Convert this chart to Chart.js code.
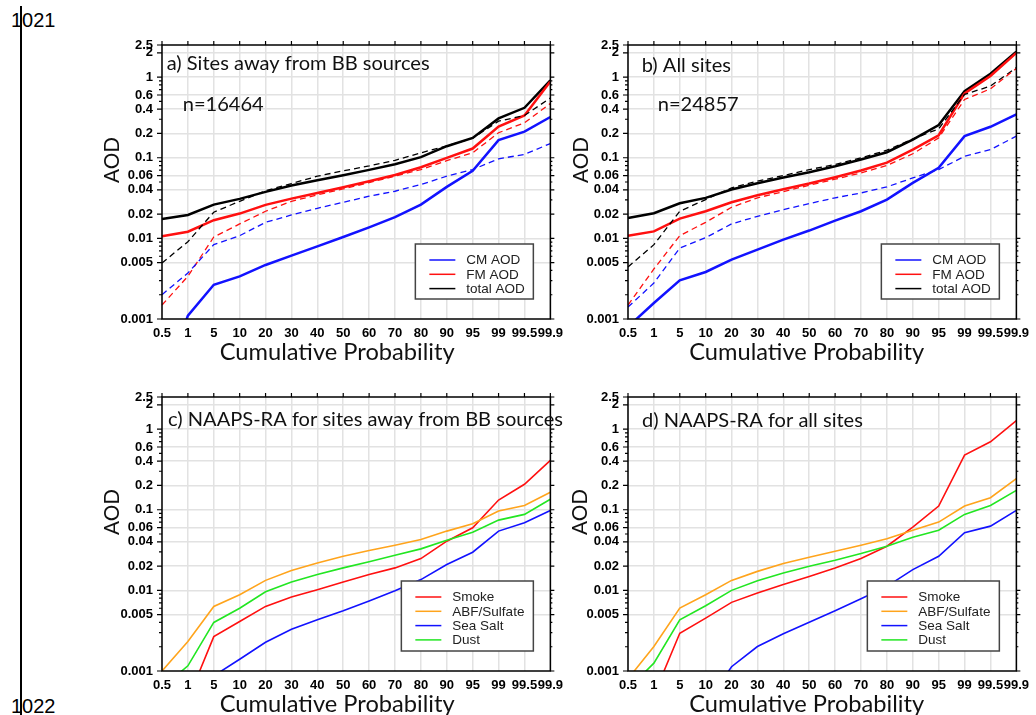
<!DOCTYPE html>
<html>
<head>
<meta charset="utf-8">
<title>AOD cumulative probability</title>
<script src="https://cdn.jsdelivr.net/npm/chart.js@4.4.1/dist/chart.umd.min.js"></script>
<style>
  html, body { margin: 0; padding: 0; background: #fff; overflow: hidden; }
  body { width: 1036px; height: 715px; position: relative; }
  canvas { position: absolute; }
  .lineno { position: absolute; left: 11px; font: 20px/1 "Liberation Sans", Arial, sans-serif; color: #000; }
  .rule { position: absolute; left: 20px; top: 6px; width: 2px; height: 709px; background: #000; }
</style>
</head>
<body>
<div class="lineno" style="top:10px">1021</div>
<div class="lineno" style="top:696px">1022</div>
<div class="rule"></div>
<canvas id="panel-a" width="480" height="352" style="left:90px;top:20px"></canvas>
<canvas id="panel-b" width="480" height="352" style="left:556px;top:20px"></canvas>
<canvas id="panel-c" width="480" height="352" style="left:90px;top:372px"></canvas>
<canvas id="panel-d" width="480" height="352" style="left:556px;top:372px"></canvas>
<script>
  // cumulative probability (%) categories
  const PROB = ['0.5', '1', '5', '10', '20', '30', '40', '50', '60', '70', '80', '90', '95', '99', '99.5', '99.9'];
  // y axis (log), labelled ticks and the unlabelled minor ones
  const Y_MAJOR = [0.001, 0.005, 0.01, 0.02, 0.04, 0.06, 0.1, 0.2, 0.4, 0.6, 1, 2, 2.5];
  const Y_MINOR = [0.002, 0.003, 0.004, 0.006, 0.007, 0.008, 0.009, 0.03, 0.05, 0.07, 0.08, 0.09, 0.3, 0.5, 0.7, 0.8, 0.9];

  // a) sites away from BB sources: solid = AERONET, dashed = NAAPS-RA
  const aTotal = [0.0174, 0.0195, 0.0262, 0.0309, 0.0377, 0.0452, 0.0526, 0.0607, 0.0707, 0.0831, 0.1016, 0.139, 0.176, 0.307, 0.416, 0.91];
  const aFM = [0.0106, 0.0121, 0.0168, 0.0203, 0.026, 0.0311, 0.0366, 0.043, 0.0511, 0.0612, 0.0762, 0.0995, 0.13, 0.244, 0.334, 0.88];
  const aCM = [0.00014, 0.0011, 0.00266, 0.00338, 0.00468, 0.0061, 0.00797, 0.0104, 0.0137, 0.0183, 0.0262, 0.0435, 0.0687, 0.165, 0.211, 0.32];
  const aTotalNaaps = [0.00495, 0.0091, 0.0211, 0.0288, 0.039, 0.0478, 0.059, 0.0687, 0.079, 0.093, 0.115, 0.14, 0.175, 0.284, 0.334, 0.55];
  const aFMNaaps = [0.00149, 0.00338, 0.0104, 0.0151, 0.0217, 0.0288, 0.0346, 0.041, 0.0492, 0.059, 0.0713, 0.092, 0.115, 0.204, 0.271, 0.47];
  const aCMNaaps = [0.002, 0.00372, 0.00836, 0.0108, 0.0158, 0.0195, 0.0236, 0.028, 0.0333, 0.0384, 0.0465, 0.059, 0.0713, 0.0968, 0.11, 0.15];

  // b) all sites
  const bTotal = [0.0179, 0.0205, 0.0272, 0.0318, 0.0403, 0.0483, 0.0568, 0.066, 0.0785, 0.095, 0.117, 0.168, 0.254, 0.67, 1.1, 2.06];
  const bFM = [0.0108, 0.0122, 0.0176, 0.0217, 0.028, 0.0343, 0.0407, 0.0478, 0.0573, 0.0693, 0.087, 0.126, 0.19, 0.627, 1.03, 2.0];
  const bCM = [0.0008, 0.00158, 0.00301, 0.00383, 0.00545, 0.00724, 0.00965, 0.0125, 0.0166, 0.0217, 0.0303, 0.0488, 0.0748, 0.185, 0.242, 0.344];
  const bTotalNaaps = [0.00441, 0.00836, 0.0217, 0.0303, 0.0423, 0.0511, 0.0601, 0.0713, 0.0824, 0.0995, 0.124, 0.171, 0.228, 0.61, 0.773, 1.31];
  const bFMNaaps = [0.00149, 0.00417, 0.0108, 0.0158, 0.0243, 0.0318, 0.038, 0.0456, 0.0541, 0.0649, 0.08, 0.112, 0.176, 0.528, 0.716, 1.28];
  const bCMNaaps = [0.00141, 0.00279, 0.0076, 0.0102, 0.0151, 0.0188, 0.0227, 0.027, 0.0318, 0.0366, 0.0435, 0.0562, 0.0713, 0.104, 0.126, 0.185];

  // c) NAAPS-RA species, sites away from BB sources
  const cSmoke = [0.0002, 0.00044, 0.00267, 0.00411, 0.00632, 0.00826, 0.0102, 0.0127, 0.0157, 0.019, 0.0248, 0.0407, 0.0597, 0.132, 0.207, 0.41];
  const cSulfate = [0.001, 0.00232, 0.00632, 0.00883, 0.0133, 0.0176, 0.0219, 0.0265, 0.0312, 0.0363, 0.0428, 0.0543, 0.067, 0.0962, 0.113, 0.165];
  const cSeaSalt = [0.0001, 0.0003, 0.00087, 0.0014, 0.00227, 0.0033, 0.00431, 0.00558, 0.00737, 0.0099, 0.0136, 0.0209, 0.0297, 0.0543, 0.0689, 0.098];
  const cDust = [0.00062, 0.00116, 0.004, 0.006, 0.0096, 0.0127, 0.0157, 0.019, 0.0227, 0.0273, 0.0327, 0.0419, 0.0527, 0.0743, 0.0875, 0.135];

  // d) NAAPS-RA species, all sites
  const dSmoke = [0.0002, 0.0005, 0.00294, 0.00453, 0.0071, 0.00927, 0.0118, 0.0149, 0.019, 0.0248, 0.0353, 0.0608, 0.111, 0.475, 0.696, 1.27];
  const dSulfate = [0.0008, 0.00201, 0.00603, 0.00883, 0.0133, 0.0172, 0.0215, 0.0258, 0.0306, 0.0363, 0.0436, 0.0558, 0.0702, 0.111, 0.141, 0.243];
  const dSeaSalt = [0.0001, 0.0001, 0.0002, 0.00038, 0.00113, 0.00201, 0.00289, 0.00403, 0.00558, 0.00787, 0.0112, 0.0181, 0.0265, 0.0518, 0.0626, 0.098];
  const dDust = [0.0006, 0.00125, 0.00431, 0.00644, 0.01, 0.0132, 0.0164, 0.0199, 0.0236, 0.0286, 0.0353, 0.0457, 0.0558, 0.0875, 0.113, 0.174];

  const BLUE = '#1212ff', RED = '#ff1010', BLACK = '#000000', ORANGE = '#ffa41c', GREEN = '#22e622';
  const TEXT_FAMILY = 'Lato, "Open Sans", sans-serif';
  const TICK_FONT = { family: 'Liberation Sans', size: 13, weight: 'bold' };
  const GRID = '#e2e2e2';

  function line(data, color, width, dash) {
    return {
      data, borderColor: color, borderWidth: width, borderDash: dash || [],
      pointRadius: 0, tension: 0, fill: false
    };
  }

  // font size that makes text span the given width
  function fitSize(ctx, text, width) {
    ctx.font = '100px ' + TEXT_FAMILY;
    return 100 * width / ctx.measureText(text).width;
  }

  const isMajor = v => Y_MAJOR.some(m => Math.abs(m - v) < 1e-9);

  function makePanel(id, cfg) {
    const decor = {
      id: 'decor',
      afterDraw(chart) {
        const { ctx, chartArea: a, scales: { x, y } } = chart;
        ctx.save();

        // tick marks (left/right/top) and frame
        ctx.strokeStyle = '#000';
        ctx.lineWidth = 1.2;
        ctx.beginPath();
        Y_MAJOR.concat(Y_MINOR).forEach(v => {
          const py = y.getPixelForValue(v);
          const big = isMajor(v);
          ctx.moveTo(a.left, py); ctx.lineTo(a.left - (big ? 5 : 3), py);
          ctx.moveTo(a.right, py); ctx.lineTo(a.right + (big ? 4 : 2), py);
        });
        PROB.forEach((_, i) => {
          const px = x.getPixelForValue(i);
          ctx.moveTo(px, a.top); ctx.lineTo(px, a.top - 4);
        });
        ctx.stroke();
        ctx.lineWidth = 1.5;
        ctx.strokeRect(a.left, a.top, a.right - a.left, a.bottom - a.top);

        // legend box
        const lg = cfg.legend;
        const bx = a.right - 17 - lg.w, by = a.bottom - 20 - lg.h;
        ctx.fillStyle = '#fff';
        ctx.fillRect(bx, by, lg.w, lg.h);
        ctx.strokeStyle = '#444';
        ctx.lineWidth = 1.5;
        ctx.strokeRect(bx, by, lg.w, lg.h);
        ctx.font = '13.5px "Liberation Sans", Arial, sans-serif';
        ctx.textBaseline = 'middle';
        ctx.textAlign = 'left';
        lg.items.forEach(([label, color], i) => {
          const ry = by + 16 + i * 14.3;
          ctx.strokeStyle = color;
          ctx.lineWidth = 1.5;
          ctx.beginPath();
          ctx.moveTo(bx + 14, ry); ctx.lineTo(bx + 40, ry);
          ctx.stroke();
          ctx.fillStyle = '#222';
          ctx.fillText(label, bx + 51, ry + 0.5);
        });

        // panel title and sample size
        ctx.fillStyle = '#111';
        ctx.textBaseline = 'alphabetic';
        const ts = fitSize(ctx, 'a) Sites away from BB sources', 263);
        ctx.font = ts.toFixed(2) + 'px ' + TEXT_FAMILY;
        ctx.fillText(cfg.title, a.left + cfg.titleDx, a.top + cfg.titleDy);
        if (cfg.note) ctx.fillText(cfg.note, a.left + cfg.titleDx + 16, a.top + 66);

        // axis titles
        const xs = fitSize(ctx, 'Cumulative Probability', 235);
        ctx.font = xs.toFixed(2) + 'px ' + TEXT_FAMILY;
        ctx.textAlign = 'center';
        ctx.fillText('Cumulative Probability', (a.left + a.right) / 2 + cfg.xTitleDx, a.bottom + 41);
        const ys = fitSize(ctx, 'AOD', 46);
        ctx.font = ys.toFixed(2) + 'px ' + TEXT_FAMILY;
        ctx.translate(a.left - cfg.aodDx, a.top + 115);
        ctx.rotate(-Math.PI / 2);
        ctx.fillText('AOD', 0, 0);
        ctx.restore();
      }
    };

    return new Chart(document.getElementById(id), {
      type: 'line',
      data: { labels: PROB, datasets: cfg.datasets },
      options: {
        responsive: false,
        animation: false,
        events: [],
        layout: { padding: { top: 25, right: 13, left: 0, bottom: 0 } },
        plugins: { legend: { display: false }, tooltip: { enabled: false } },
        scales: {
          x: {
            type: 'category',
            offset: false,
            grid: { color: GRID, lineWidth: 1.5, drawTicks: false },
            border: { display: false },
            ticks: { font: TICK_FONT, color: '#000', padding: 7, maxRotation: 0, autoSkip: false },
            afterFit: s => { s.height = 53; }
          },
          y: {
            type: 'logarithmic',
            min: 0.001,
            max: 2.5,
            afterBuildTicks: s => { s.ticks = Y_MAJOR.concat(Y_MINOR).sort((p, q) => p - q).map(v => ({ value: v })); },
            grid: {
              drawTicks: false,
              lineWidth: 1.5,
              color: c => (c.tick && isMajor(c.tick.value) && c.tick.value > 0.001 && c.tick.value < 2.5) ? GRID : 'rgba(0,0,0,0)'
            },
            border: { display: false },
            ticks: {
              font: TICK_FONT, color: '#000', padding: 9, autoSkip: false,
              callback: v => isMajor(v) ? String(v) : ''
            },
            afterFit: s => { s.width = 72; }
          }
        }
      },
      plugins: [decor]
    });
  }

  const DASH = [6, 4];
  const aerosolLegend = { w: 118, h: 55, items: [['CM AOD', BLUE], ['FM AOD', RED], ['total AOD', BLACK]] };
  const speciesLegend = { w: 132, h: 70, items: [['Smoke', RED], ['ABF/Sulfate', ORANGE], ['Sea Salt', BLUE], ['Dust', GREEN]] };

  makePanel('panel-a', {
    title: 'a) Sites away from BB sources', note: 'n=16464', titleDx: 4.7, titleDy: 25,
    xTitleDx: -19, aodDx: 42.7, legend: aerosolLegend,
    datasets: [
      line(aCMNaaps, BLUE, 1.3, DASH), line(aFMNaaps, RED, 1.3, DASH), line(aTotalNaaps, BLACK, 1.3, DASH),
      line(aCM, BLUE, 2.5), line(aFM, RED, 2.5), line(aTotal, BLACK, 2.5)
    ]
  });

  makePanel('panel-b', {
    title: 'b) All sites', note: 'n=24857', titleDx: 13.7, titleDy: 26.7,
    xTitleDx: -15.5, aodDx: 39.7, legend: aerosolLegend,
    datasets: [
      line(bCMNaaps, BLUE, 1.3, DASH), line(bFMNaaps, RED, 1.3, DASH), line(bTotalNaaps, BLACK, 1.3, DASH),
      line(bCM, BLUE, 2.5), line(bFM, RED, 2.5), line(bTotal, BLACK, 2.5)
    ]
  });

  makePanel('panel-c', {
    title: 'c) NAAPS-RA for sites away from BB sources', titleDx: 6, titleDy: 29,
    xTitleDx: -19, aodDx: 42.7, legend: speciesLegend,
    datasets: [
      line(cSeaSalt, BLUE, 1.6), line(cDust, GREEN, 1.6), line(cSulfate, ORANGE, 1.6), line(cSmoke, RED, 1.6)
    ]
  });

  makePanel('panel-d', {
    title: 'd) NAAPS-RA for all sites', titleDx: 14, titleDy: 29.7,
    xTitleDx: -15.5, aodDx: 41, legend: speciesLegend,
    datasets: [
      line(dSeaSalt, BLUE, 1.6), line(dDust, GREEN, 1.6), line(dSulfate, ORANGE, 1.6), line(dSmoke, RED, 1.6)
    ]
  });
</script>
</body>
</html>
